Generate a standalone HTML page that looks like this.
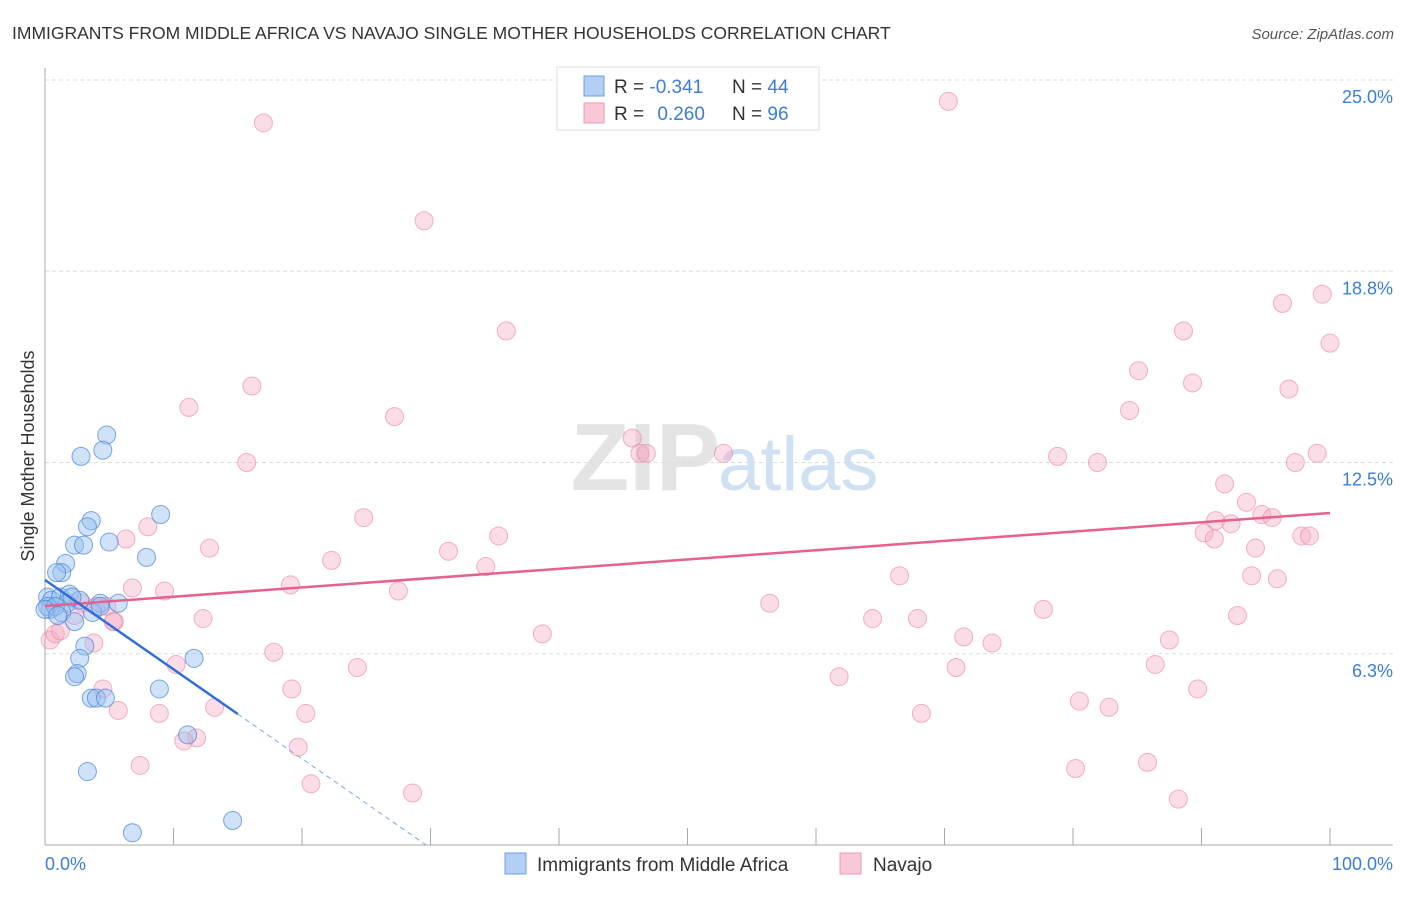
<!DOCTYPE html>
<html><head><meta charset="utf-8"><style>
body{margin:0;background:#fff;font-family:"Liberation Sans",sans-serif;}
svg text{font-family:"Liberation Sans",sans-serif;}
</style></head><body>
<svg id="c" width="1406" height="892">
<text x="12" y="39" font-size="17.5" fill="#333">IMMIGRANTS FROM MIDDLE AFRICA VS NAVAJO SINGLE MOTHER HOUSEHOLDS CORRELATION CHART</text>
<text x="1394" y="39" font-size="15" fill="#555" font-style="italic" text-anchor="end">Source: ZipAtlas.com</text>
<text x="720" y="490" font-size="96" fill="#e4e4e4" font-family="Liberation Serif" text-anchor="end" font-weight="bold">ZIP</text>
<text x="718" y="490" font-size="76" fill="#cfe0f3">atlas</text>
<text transform="translate(34,456) rotate(-90)" font-size="18" fill="#333" text-anchor="middle">Single Mother Households</text>
<g id="grid"></g><g id="pts"></g><g id="lines"></g>
<g>
<rect x="557" y="67" width="262" height="63" fill="#fff" stroke="#ddd"/>
<rect x="584" y="76" width="20" height="20" fill="#b3cff3" stroke="#6d9fe0"/>
<rect x="584" y="103" width="20" height="20" fill="#f9c8d6" stroke="#eb9ab3"/>
<text x="614" y="93" font-size="19" fill="#333">R = <tspan fill="#3b7dd8">-0.341</tspan></text>
<text x="732" y="93" font-size="19" fill="#333">N = <tspan fill="#3b7dd8">44</tspan></text>
<text x="614" y="120" font-size="19" fill="#333">R = <tspan fill="#3b7dd8" dx="8">0.260</tspan></text>
<text x="732" y="120" font-size="19" fill="#333">N = <tspan fill="#3b7dd8">96</tspan></text>
</g>
<g>
<rect x="505" y="853" width="21" height="21" fill="#b3cff3" stroke="#6d9fe0"/>
<text x="537" y="871" font-size="19" fill="#333">Immigrants from Middle Africa</text>
<rect x="840" y="853" width="21" height="21" fill="#f9c8d6" stroke="#eb9ab3"/>
<text x="873" y="871" font-size="19" fill="#333">Navajo</text>
</g>
</svg>
<script>
const yTicks=[6.25,12.5,18.75,25];
const yTickLabels=["6.3%","12.5%","18.8%","25.0%"];
const xTicks=[0,10,20,30,40,50,60,70,80,90,100];
const blueX=[4.8,2.8,4.5,9.0,3.6,3.3,2.3,3.0,5.0,7.9,1.6,1.3,0.9,0.2,0.5,1.2,1.9,1.7,2.7,4.3,5.7,3.7,1.3,0.4,2.3,3.1,2.7,2.5,2.3,11.6,8.9,3.6,4.0,4.7,11.1,3.3,6.8,14.6,0.2,0.8,0.0,1.0,2.1,4.3];
const blueY=[13.4,12.7,12.9,10.8,10.6,10.4,9.8,9.8,9.9,9.4,9.2,8.9,8.9,8.1,8.0,8.1,8.2,7.9,8.0,7.9,7.9,7.6,7.6,7.7,7.3,6.5,6.1,5.6,5.5,6.1,5.1,4.8,4.8,4.8,3.6,2.4,0.4,0.8,7.8,7.8,7.7,7.5,8.1,7.8];
const pinkX=[70.3,17.0,29.5,96.3,99.4,35.9,100,88.6,85.1,89.3,16.1,96.8,11.2,84.4,27.2,45.7,46.3,46.8,52.8,15.7,78.8,81.9,99.0,97.3,91.8,93.5,94.7,95.5,91.1,92.3,90.2,91.0,97.8,98.4,94.2,8.0,24.8,6.3,12.8,35.3,31.4,22.3,34.3,66.5,93.9,95.9,6.8,9.3,19.1,27.5,56.4,77.7,92.8,12.3,64.4,67.9,5.4,38.7,71.5,73.7,87.5,3.8,17.8,10.2,24.3,70.9,86.4,61.8,19.2,4.5,80.5,89.7,82.8,13.2,20.3,68.2,5.7,8.9,11.8,10.8,19.7,7.4,80.2,85.8,20.7,28.6,88.2,0.4,0.8,1.2,2.9,4.0,2.3,4.8,5.3];
const pinkY=[24.3,23.6,20.4,17.7,18.0,16.8,16.4,16.8,15.5,15.1,15.0,14.9,14.3,14.2,14.0,13.3,12.8,12.8,12.8,12.5,12.7,12.5,12.8,12.5,11.8,11.2,10.8,10.7,10.6,10.5,10.2,10.0,10.1,10.1,9.7,10.4,10.7,10.0,9.7,10.1,9.6,9.3,9.1,8.8,8.8,8.7,8.4,8.3,8.5,8.3,7.9,7.7,7.5,7.4,7.4,7.4,7.3,6.9,6.8,6.6,6.7,6.6,6.3,5.9,5.8,5.8,5.9,5.5,5.1,5.1,4.7,5.1,4.5,4.5,4.3,4.3,4.4,4.3,3.5,3.4,3.2,2.6,2.5,2.7,2.0,1.7,1.5,6.7,6.9,7.0,7.9,7.8,7.5,7.8,7.3];
const pinkTrend=[7.81,10.85];
const blueTrend=[8.66,-0.292];
const X=v=>45+v*12.85, Y=v=>845-v*30.6;
const NS="http://www.w3.org/2000/svg";
function mk(t,a,p){const e=document.createElementNS(NS,t);for(const k in a)e.setAttribute(k,a[k]);p.appendChild(e);return e;}
const grid=document.getElementById('grid'),pts=document.getElementById('pts'),lines=document.getElementById('lines');
yTicks.forEach((v,i)=>{
 const l=mk('line',{x1:45,x2:1393,y1:Y(v),y2:Y(v),stroke:'#ddd','stroke-dasharray':'4,3'},grid);
 
 
 const t=mk('text',{x:1393,y:Y(v)+23,'font-size':18,fill:'#3b7dd8','text-anchor':'end'},grid);t.textContent=yTickLabels[i];
 
 
});
const ax=mk('line',{x1:45,x2:45,y1:68,y2:845,stroke:'#aaa'},grid);


const bx=mk('line',{x1:45,x2:1393,y1:845,y2:845,stroke:'#aaa'},grid);


xTicks.forEach(v=>{const t=mk('line',{x1:X(v),x2:X(v),y1:828,y2:845,stroke:'#aaa'},grid);
 
 });
const xl0=mk('text',{x:45,y:870,'font-size':18,fill:'#3b7dd8'},grid);xl0.textContent='0.0%';


const xl1=mk('text',{x:1393,y:870,'font-size':18,fill:'#3b7dd8','text-anchor':'end'},grid);xl1.textContent='100.0%';


pinkX.forEach((x,i)=>{const c=mk('circle',{cx:X(x),cy:Y(pinkY[i]),r:9,fill:'rgba(246,170,195,0.4)',stroke:'rgba(232,130,160,0.6)'},pts);
 
 });
blueX.forEach((x,i)=>{const c=mk('circle',{cx:X(x),cy:Y(blueY[i]),r:9,fill:'rgba(150,190,238,0.45)',stroke:'rgba(70,130,215,0.7)'},pts);
 
 });
const pl=mk('line',{x1:X(0),y1:Y(pinkTrend[0]),x2:X(100),y2:Y(pinkTrend[1]),stroke:'#e8608c','stroke-width':2.5},lines);


const bl=mk('line',{x1:X(0),y1:Y(blueTrend[0]),x2:X(15),y2:Y(blueTrend[0]+15*blueTrend[1]),stroke:'#2f6fd6','stroke-width':2.5},lines);


const xe=-blueTrend[0]/blueTrend[1];
const bd=mk('line',{x1:X(15),y1:Y(blueTrend[0]+15*blueTrend[1]),x2:X(xe),y2:Y(0),stroke:'#7fa8e0','stroke-width':1,'stroke-dasharray':'5,4'},lines);


</script>
</body></html>
